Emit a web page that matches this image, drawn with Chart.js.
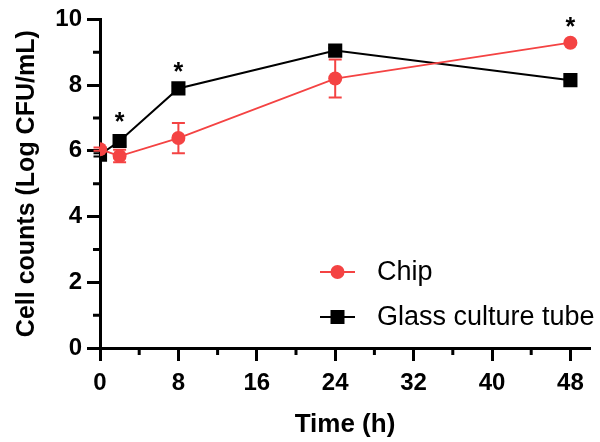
<!DOCTYPE html>
<html>
<head>
<meta charset="utf-8">
<script src="https://cdn.jsdelivr.net/npm/chart.js@4.4.1/dist/chart.umd.min.js"></script>
<style>
  html, body { margin: 0; padding: 0; background: #fff; }
  #wrap { width: 600px; height: 442px; }
</style>
</head>
<body>
<div id="wrap"><canvas id="growthChart" width="600" height="442"></canvas></div>
<script>
// 測定時間 (h)
const timePoints = [0, 2, 8, 24, 48];

// Chip
const chipMean = [6.05, 5.84, 6.39, 8.2, 9.29];
const chipSd = [0.05, 0.19, 0.46, 0.58, 0.05];

// Glass culture tube
const glassMean = [5.88, 6.3, 7.9, 9.05, 8.15];
const glassSd = [0.05, 0.15, 0.08, 0.08, 0.05];

// 有意差 (*) をつける時間
const sigTimes = [2, 8, 48];

const xTicks = [0, 8, 16, 24, 32, 40, 48];
const yTicks = [0, 2, 4, 6, 8, 10];

const RED = 'rgb(244, 67, 67)';
const BLACK = '#000';
const FONT = '"Liberation Sans", Arial, sans-serif';

const toXY = (means) => timePoints.map((t, i) => ({ x: t, y: means[i] }));

// エラーバー・補助目盛り・* 印・凡例
const errorBars = {
  id: 'errorBars',
  beforeDatasetsDraw(chart) {
    const { ctx, scales: { x, y } } = chart;
    const sets = [[glassMean, glassSd, BLACK], [chipMean, chipSd, RED]];
    ctx.save();
    sets.forEach(([mean, sd, color]) => {
      ctx.strokeStyle = color;
      ctx.lineWidth = 2;
      timePoints.forEach((t, i) => {
        const px = x.getPixelForValue(t);
        const top = y.getPixelForValue(mean[i] + sd[i]);
        const bot = y.getPixelForValue(mean[i] - sd[i]);
        ctx.beginPath();
        ctx.moveTo(px, top); ctx.lineTo(px, bot);
        ctx.moveTo(px - 6.5, top); ctx.lineTo(px + 6.5, top);
        ctx.moveTo(px - 6.5, bot); ctx.lineTo(px + 6.5, bot);
        ctx.stroke();
      });
    });
    ctx.restore();
  },
  afterDraw(chart) {
    const { ctx, scales: { x, y } } = chart;
    ctx.save();
    // 補助目盛り
    ctx.strokeStyle = BLACK;
    ctx.lineWidth = 3;
    ctx.beginPath();
    for (let v = 1; v < 10; v += 2) {
      const py = y.getPixelForValue(v);
      ctx.moveTo(chart.chartArea.left - 7, py);
      ctx.lineTo(chart.chartArea.left, py);
    }
    for (let v = 4; v < 50; v += 8) {
      const px = x.getPixelForValue(v);
      ctx.moveTo(px, chart.chartArea.bottom);
      ctx.lineTo(px, chart.chartArea.bottom + 7);
    }
    ctx.stroke();

    // * 印
    ctx.fillStyle = BLACK;
    ctx.font = `bold 25px ${FONT}`;
    ctx.textAlign = 'center';
    ctx.textBaseline = 'alphabetic';
    sigTimes.forEach((t) => {
      const i = timePoints.indexOf(t);
      const top = Math.max(chipMean[i] + chipSd[i], glassMean[i] + glassSd[i]);
      const py = y.getPixelForValue(Math.max(top, chipMean[i], glassMean[i]));
      ctx.fillText('*', x.getPixelForValue(t), py - 6);
    });

    // 凡例
    const items = [
      { label: 'Chip', color: RED, style: 'circle', y: 272 },
      { label: 'Glass culture tube', color: BLACK, style: 'rect', y: 317 },
    ];
    ctx.font = `27px ${FONT}`;
    ctx.textAlign = 'left';
    ctx.textBaseline = 'middle';
    items.forEach((it) => {
      ctx.strokeStyle = it.color;
      ctx.fillStyle = it.color;
      ctx.lineWidth = 2;
      ctx.beginPath();
      ctx.moveTo(320, it.y); ctx.lineTo(355, it.y);
      ctx.stroke();
      ctx.beginPath();
      if (it.style === 'circle') {
        ctx.arc(337.5, it.y, 7, 0, Math.PI * 2);
      } else {
        ctx.rect(330.5, it.y - 7, 14, 14);
      }
      ctx.fill();
      ctx.fillStyle = BLACK;
      ctx.fillText(it.label, 377, it.y + 1);
    });
    ctx.restore();
  }
};

document.addEventListener('DOMContentLoaded', () => {
  const ctx = document.getElementById('growthChart');

  new Chart(ctx, {
    type: 'line',
    data: {
      datasets: [{
        label: 'Chip',
        data: toXY(chipMean),
        borderColor: RED,
        backgroundColor: RED,
        borderWidth: 1.8,
        pointStyle: 'circle',
        pointRadius: 7,
        pointBorderWidth: 0,
        order: 0,
      }, {
        label: 'Glass culture tube',
        data: toXY(glassMean),
        borderColor: BLACK,
        backgroundColor: BLACK,
        borderWidth: 2,
        pointStyle: 'rect',
        pointRadius: 10,
        pointBorderWidth: 0,
        order: 1,
      }],
    },
    options: {
      responsive: false,
      animation: false,
      layout: { padding: { top: 17, right: 5, left: 0, bottom: 0 } },
      plugins: {
        legend: { display: false },
        tooltip: { enabled: false },
      },
      scales: {
        x: {
          type: 'linear',
          min: 0,
          max: 50,
          afterBuildTicks: (scale) => { scale.ticks = xTicks.map((v) => ({ value: v })); },
          afterFit: (scale) => { scale.height = 94; },
          ticks: {
            color: BLACK,
            font: { family: FONT, size: 24, weight: 'bold' },
            padding: 8,
            maxRotation: 0,
          },
          grid: {
            drawOnChartArea: false,
            drawTicks: true,
            tickLength: 13,
            tickWidth: 3,
            tickColor: BLACK,
          },
          border: { display: true, color: BLACK, width: 3 },
          title: {
            display: true,
            text: 'Time (h)',
            color: BLACK,
            font: { family: FONT, size: 26, weight: 'bold' },
            padding: { top: 0, bottom: 2 },
          },
        },
        y: {
          type: 'linear',
          min: 0,
          max: 10,
          afterBuildTicks: (scale) => { scale.ticks = yTicks.map((v) => ({ value: v })); },
          afterFit: (scale) => { scale.width = 100; },
          ticks: {
            color: BLACK,
            font: { family: FONT, size: 24, weight: 'bold' },
            padding: 5,
          },
          grid: {
            drawOnChartArea: false,
            drawTicks: true,
            tickLength: 13,
            tickWidth: 3,
            tickColor: BLACK,
          },
          border: { display: true, color: BLACK, width: 3 },
          title: {
            display: true,
            text: 'Cell counts (Log CFU/mL)',
            color: BLACK,
            font: { family: FONT, size: 25, weight: 'bold' },
            padding: { top: 12, bottom: 0 },
          },
        },
      },
    },
    plugins: [errorBars],
  });
});
</script>
</body>
</html>
